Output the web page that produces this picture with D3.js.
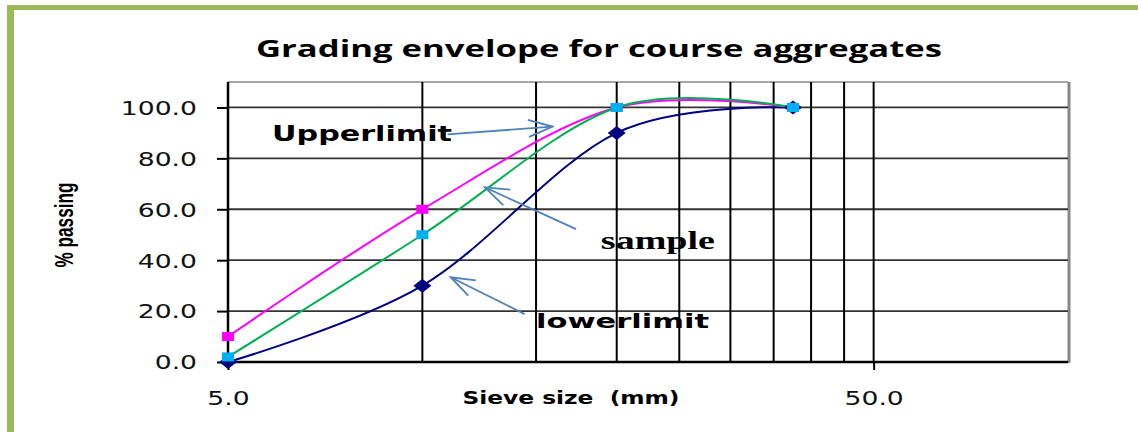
<!DOCTYPE html>
<html>
<head>
<meta charset="utf-8">
<script src="https://cdn.jsdelivr.net/npm/d3@7"></script>
<style>
  html, body { margin: 0; padding: 0; background: #fff; }
  svg { display: block; }
</style>
</head>
<body>
<div id="root"><svg></svg></div>
<script>
const width = 1138, height = 432;

// chart data
const sieveSizes = [5, 10, 20, 37.5];
const upperLimit = [10, 60, 100, 100];
const sampleVals = [2, 50, 100, 100];
const lowerLimit = [0, 30, 90, 100];

const yTicks = [0, 20, 40, 60, 80, 100];
const xTicks = [5, 50];
const xGrid = [10, 15, 20, 25, 30, 35, 40, 45, 50];

// annotations, in data units (sieve size, % passing)
const labels = [
    { text: 'Upperlimit', x: 5.85, y: 86.7, font: '"DejaVu Sans", Verdana, sans-serif', size: 21, len: 180 },
    { text: 'sample', x: 18.9, y: 44.3, font: '"Liberation Serif", "Times New Roman", serif', size: 25, len: 114 },
    { text: 'lowerlimit', x: 15.0, y: 13.3, font: '"DejaVu Sans", Verdana, sans-serif', size: 20, len: 173 }
];
const arrows = [
    { from: [10.94, 89.4], to: [15.9, 92.5] },
    { from: [17.3, 52.2], to: [12.5, 68.6] },
    { from: [14.4, 18.8], to: [11.06, 33.3] }
];

const margin = { left: 228, right: 70, top: 82, bottom: 70 };
const stretch = 1.4; // text in the picture is drawn wide

const x = d3.scaleLog().domain([5, 100]).range([margin.left, width - margin.right]);
const y = d3.scaleLinear().domain([0, 110]).range([height - margin.bottom, margin.top]);

const svg = d3.select('#root').select('svg')
    .attr('width', width)
    .attr('height', height);

svg.append('rect').attr('width', width).attr('height', height).attr('fill', '#fff');

// green frame
svg.append('rect').attr('x', 7).attr('y', 5).attr('width', 7).attr('height', height - 5).attr('fill', '#9bbb59');
svg.append('rect').attr('x', 7).attr('y', 5).attr('width', width - 7).attr('height', 5).attr('fill', '#9bbb59');

// title
svg.append('text')
    .attr('x', 599).attr('y', 57)
    .attr('text-anchor', 'middle')
    .attr('font-family', '"Open Sans", sans-serif')
    .attr('font-weight', 'bold')
    .attr('font-size', 23)
    .attr('textLength', 686)
    .attr('lengthAdjust', 'spacingAndGlyphs')
    .text('Grading envelope for course aggregates');

// plot frame (gray top / right)
const [x0, x1] = x.range();
const [yb, yt] = y.range();
svg.append('line').attr('x1', x0).attr('x2', x1).attr('y1', yt).attr('y2', yt)
    .attr('stroke', '#888').attr('stroke-width', 1.5);
svg.append('line').attr('x1', x1 + 1).attr('x2', x1 + 1).attr('y1', yt).attr('y2', yb + 1)
    .attr('stroke', '#888').attr('stroke-width', 3);

// grid lines
svg.append('g').selectAll('line')
    .data(yTicks.slice(1))
    .enter().append('line')
    .attr('x1', x0).attr('x2', x1)
    .attr('y1', d => y(d)).attr('y2', d => y(d))
    .attr('stroke', '#333').attr('stroke-width', 1.8);

svg.append('g').selectAll('line')
    .data(xGrid)
    .enter().append('line')
    .attr('x1', d => x(d)).attr('x2', d => x(d))
    .attr('y1', yt).attr('y2', yb)
    .attr('stroke', '#000').attr('stroke-width', 2);

// axes
const yAxis = svg.append('g')
    .attr('transform', `translate(${x0},0)`)
    .call(d3.axisLeft(y).tickValues(yTicks).tickSize(11).tickPadding(20).tickFormat(d3.format('.1f')));
const xAxis = svg.append('g')
    .attr('transform', `translate(0,${yb})`)
    .call(d3.axisBottom(x).tickValues(xTicks).tickSize(8).tickPadding(22).tickFormat(d3.format('.1f')));

[yAxis, xAxis].forEach(g => {
    g.select('.domain').attr('stroke', '#000').attr('stroke-width', 2.5);
    g.selectAll('.tick line').attr('stroke', '#000').attr('stroke-width', 2);
    g.selectAll('.tick text')
        .attr('font-family', '"DejaVu Sans", Verdana, sans-serif')
        .attr('font-size', 19)
        .attr('fill', '#111')
        .each(function() {
            const w = this.getComputedTextLength();
            d3.select(this).attr('textLength', w * stretch).attr('lengthAdjust', 'spacingAndGlyphs');
        });
});
yAxis.select('.domain').attr('d', `M0,${yt}V${yb}`);
xAxis.select('.domain').attr('d', `M${x0},0H${x1}`);
yAxis.selectAll('.tick text').attr('dy', '0.36em');

// axis titles
svg.append('text')
    .attr('x', 571).attr('y', 404)
    .attr('text-anchor', 'middle')
    .attr('font-family', '"DejaVu Sans", Verdana, sans-serif')
    .attr('font-weight', 'bold')
    .attr('font-size', 17)
    .attr('textLength', 217)
    .attr('lengthAdjust', 'spacingAndGlyphs')
    .attr('xml:space', 'preserve')
    .text('Sieve size  (mm)');

svg.append('text')
    .attr('transform', 'translate(73,225) scale(1.4,1) rotate(-90)')
    .attr('text-anchor', 'middle')
    .attr('font-family', '"Liberation Sans Narrow", "Arial Narrow", "Liberation Sans", sans-serif')
    .attr('font-weight', 'bold')
    .attr('font-size', 19)
    .attr('textLength', 85)
    .attr('lengthAdjust', 'spacingAndGlyphs')
    .text('% passing');

// series
const series = [
    { name: 'lower limit', values: lowerLimit, line: '#000080', mark: '#000080', shape: 'diamond' },
    { name: 'upper limit', values: upperLimit, line: '#ff00ff', mark: '#ff00ff', shape: 'square' },
    { name: 'sample', values: sampleVals, line: '#00b050', mark: '#00b0f0', shape: 'square' }
];

const line = d3.line()
    .x(d => x(d[0]))
    .y(d => y(d[1]))
    .curve(d3.curveCardinal.tension(0));

series.forEach(s => {
    svg.append('path')
        .datum(sieveSizes.map((v, i) => [v, s.values[i]]))
        .attr('fill', 'none')
        .attr('stroke', s.line)
        .attr('stroke-width', 2)
        .attr('d', line);
});

series.forEach(s => {
    const pts = sieveSizes.map((v, i) => [v, s.values[i]]);
    if (s.shape === 'square') {
        svg.append('g').selectAll('rect')
            .data(pts)
            .enter().append('rect')
            .attr('x', d => x(d[0]) - 6)
            .attr('y', d => y(d[1]) - 4.5)
            .attr('width', 12)
            .attr('height', 9)
            .attr('fill', s.mark);
    } else {
        svg.append('g').selectAll('path')
            .data(pts)
            .enter().append('path')
            .attr('transform', d => `translate(${x(d[0])},${y(d[1])})`)
            .attr('d', 'M-9,0L0,-7L9,0L0,7Z')
            .attr('fill', s.mark);
    }
});

// annotation arrows
svg.append('defs').append('marker')
    .attr('id', 'head')
    .attr('markerUnits', 'userSpaceOnUse')
    .attr('viewBox', '-1 -10 27 20')
    .attr('markerWidth', 27).attr('markerHeight', 20)
    .attr('refX', 24).attr('refY', 0)
    .attr('orient', 'auto')
    .append('path')
    .attr('d', 'M0,-8.5L24,0L0,8.5')
    .attr('fill', 'none')
    .attr('stroke', '#4f81bd')
    .attr('stroke-width', 1.8);

svg.append('g').selectAll('line')
    .data(arrows)
    .enter().append('line')
    .attr('x1', d => x(d.from[0])).attr('y1', d => y(d.from[1]))
    .attr('x2', d => x(d.to[0])).attr('y2', d => y(d.to[1]))
    .attr('stroke', '#4f81bd')
    .attr('stroke-width', 1.8)
    .attr('marker-end', 'url(#head)');

svg.append('g').selectAll('text')
    .data(labels)
    .enter().append('text')
    .attr('x', d => x(d.x))
    .attr('y', d => y(d.y))
    .attr('font-family', d => d.font)
    .attr('font-weight', 'bold')
    .attr('font-size', d => d.size)
    .attr('textLength', d => d.len)
    .attr('lengthAdjust', 'spacingAndGlyphs')
    .text(d => d.text);
</script>
</body>
</html>
